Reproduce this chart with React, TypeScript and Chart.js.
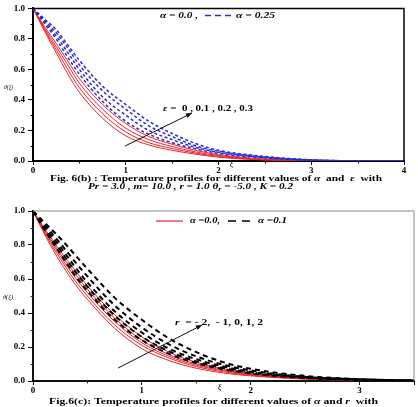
import { useEffect, useRef } from 'react';
import { Chart, registerables } from 'chart.js';
Chart.register(...registerables);

const SERIF = "'Liberation Serif', 'DejaVu Serif', 'Times New Roman', serif";

// ---------- Fig. 6(b): alpha = 0.0 (red solid) vs alpha = 0.25 (blue dashed), eps = 0, 0.1, 0.2, 0.3
const xiB = [0, 0.125, 0.25, 0.375, 0.5, 0.75, 1, 1.25, 1.5, 1.75, 2, 2.5, 3, 3.5, 4];
const redB_eps0 = [1, 0.85, 0.71, 0.57, 0.45, 0.28, 0.165, 0.105, 0.07, 0.045, 0.025, 0.006, 0.001, 0, 0];
const redB_eps1 = [1, 0.86, 0.73, 0.6, 0.48, 0.31, 0.19, 0.12, 0.082, 0.052, 0.03, 0.008, 0.001, 0, 0];
const redB_eps2 = [1, 0.87, 0.75, 0.63, 0.51, 0.34, 0.215, 0.14, 0.095, 0.06, 0.036, 0.01, 0.002, 0, 0];
const redB_eps3 = [1, 0.88, 0.77, 0.655, 0.54, 0.37, 0.245, 0.16, 0.11, 0.07, 0.042, 0.012, 0.002, 0, 0];
const blueB_eps0 = [1, 0.9, 0.8, 0.68, 0.57, 0.39, 0.26, 0.175, 0.12, 0.08, 0.05, 0.02, 0.005, 0.001, 0];
const blueB_eps1 = [1, 0.91, 0.82, 0.71, 0.6, 0.42, 0.3, 0.2, 0.14, 0.09, 0.057, 0.023, 0.006, 0.001, 0];
const blueB_eps2 = [1, 0.92, 0.84, 0.74, 0.63, 0.46, 0.34, 0.23, 0.16, 0.1, 0.064, 0.026, 0.007, 0.001, 0];
const blueB_eps3 = [1, 0.93, 0.86, 0.76, 0.66, 0.49, 0.37, 0.26, 0.18, 0.115, 0.07, 0.03, 0.008, 0.001, 0];
const xTicksB = [0, 1, 2, 3, 4];

// ---------- Fig. 6(c): alpha = 0.0 (red solid) vs alpha = 0.1 (black dashed), r = -2 .. 2
const xiC = [0, 0.125, 0.25, 0.375, 0.5, 0.75, 1, 1.25, 1.5, 1.75, 2, 2.5, 3, 3.5];
const redC_rm2 = [1, 0.84, 0.7, 0.58, 0.48, 0.31, 0.19, 0.12, 0.075, 0.047, 0.03, 0.011, 0.004, 0.001];
const redC_rm1 = [1, 0.85, 0.72, 0.6, 0.5, 0.33, 0.21, 0.135, 0.085, 0.054, 0.034, 0.013, 0.005, 0.001];
const redC_r0 = [1, 0.86, 0.735, 0.62, 0.52, 0.35, 0.225, 0.145, 0.093, 0.06, 0.038, 0.015, 0.005, 0.001];
const redC_r1 = [1, 0.87, 0.75, 0.64, 0.54, 0.37, 0.24, 0.155, 0.1, 0.065, 0.042, 0.017, 0.006, 0.002];
const redC_r2 = [1, 0.88, 0.765, 0.66, 0.56, 0.39, 0.26, 0.17, 0.11, 0.072, 0.046, 0.019, 0.007, 0.002];
const blackC_rm2 = [1, 0.87, 0.75, 0.63, 0.53, 0.36, 0.24, 0.16, 0.105, 0.07, 0.045, 0.018, 0.007, 0.002];
const blackC_rm1 = [1, 0.88, 0.77, 0.655, 0.555, 0.385, 0.26, 0.175, 0.115, 0.077, 0.05, 0.02, 0.008, 0.002];
const blackC_r0 = [1, 0.89, 0.79, 0.68, 0.58, 0.41, 0.285, 0.19, 0.128, 0.085, 0.055, 0.022, 0.009, 0.003];
const blackC_r1 = [1, 0.905, 0.81, 0.71, 0.615, 0.445, 0.315, 0.215, 0.145, 0.095, 0.062, 0.025, 0.01, 0.003];
const blackC_r2 = [1, 0.92, 0.84, 0.75, 0.66, 0.49, 0.36, 0.25, 0.17, 0.11, 0.072, 0.03, 0.011, 0.003];

// ---------- texts
const captionB1 = ['Fig. 6(b) : Temperature profiles for different values of ', 'α', '  and  ', 'ε', '  with'];
const captionB2 = ['Pr = 3.0 , m= 10.0 , r = 1.0 θ', 'r', ' = -5.0 , K = 0.2'];
const legendB = ['α = 0.0 ,', 'α = 0.25'];
const annotB = ['ε', ' =  0 , 0.1 , 0.2 , 0.3'];
const captionC = ['Fig.6(c): Temperature profiles for different values of ', 'α', ' and ', 'r', '  with'];
const legendC = ['α =0.0,', 'α =0.1'];
const annotC = ['r', '  = - 2,  - 1, 0, 1, 2'];
const yTitle = 'θ(ξ)';
const xTitle = 'ξ';

const RED = '#e8242a';
const BLUE = '#2a2ad2';

type Run = { t: string; f: string; dy?: number };
const fB = (s: number) => `bold ${s}px ${SERIF}`;
const fBI = (s: number) => `italic bold ${s}px ${SERIF}`;
const fI = (s: number) => `italic ${s}px ${SERIF}`;

function drawRuns(ctx: CanvasRenderingContext2D, runs: Run[], x: number, y: number, width?: number, color = '#000') {
  ctx.save();
  let total = 0;
  const ws = runs.map((r) => {
    ctx.font = r.f;
    const w = ctx.measureText(r.t).width;
    total += w;
    return w;
  });
  const sx = width ? width / total : 1;
  ctx.translate(x, y);
  ctx.scale(sx, 1);
  ctx.textBaseline = 'middle';
  ctx.textAlign = 'left';
  ctx.fillStyle = color;
  let cx = 0;
  runs.forEach((r, i) => {
    ctx.font = r.f;
    ctx.fillText(r.t, cx, r.dy || 0);
    cx += ws[i];
  });
  ctx.restore();
}

function arrow(ctx: CanvasRenderingContext2D, x1: number, y1: number, x2: number, y2: number) {
  ctx.save();
  ctx.strokeStyle = '#111';
  ctx.fillStyle = '#111';
  ctx.lineWidth = 1;
  ctx.beginPath();
  ctx.moveTo(x1, y1);
  ctx.lineTo(x2, y2);
  ctx.stroke();
  const a = Math.atan2(y2 - y1, x2 - x1);
  const L = 6, W = 2.5;
  ctx.beginPath();
  ctx.moveTo(x2, y2);
  ctx.lineTo(x2 - L * Math.cos(a) + W * Math.sin(a), y2 - L * Math.sin(a) - W * Math.cos(a));
  ctx.lineTo(x2 - L * Math.cos(a) - W * Math.sin(a), y2 - L * Math.sin(a) + W * Math.cos(a));
  ctx.closePath();
  ctx.fill();
  ctx.restore();
}

function minorTicks(chart: any, xStep: number, yStep: number, len: number, color: string) {
  const { ctx, chartArea } = chart;
  const sx = chart.scales.x, sy = chart.scales.y;
  ctx.save();
  ctx.strokeStyle = color;
  ctx.lineWidth = 1;
  ctx.beginPath();
  for (let v = xStep; v < sx.max - 1e-9; v += xStep) {
    if (Math.abs(v - Math.round(v)) < 1e-6) continue;
    const p = Math.round(sx.getPixelForValue(v)) + 0.5;
    ctx.moveTo(p, chartArea.bottom);
    ctx.lineTo(p, chartArea.bottom + len);
  }
  for (let v = yStep; v < sy.max - 1e-9; v += 2 * yStep) {
    const p = Math.round(sy.getPixelForValue(v)) + 0.5;
    ctx.moveTo(chartArea.left, p);
    ctx.lineTo(chartArea.left - len, p);
  }
  ctx.stroke();
  ctx.restore();
}

function frame(chart: any, color: string, width: number) {
  const { ctx, chartArea } = chart;
  ctx.save();
  ctx.strokeStyle = color;
  ctx.lineWidth = width;
  ctx.beginPath();
  ctx.moveTo(chartArea.left, chartArea.top);
  ctx.lineTo(chartArea.right, chartArea.top);
  ctx.lineTo(chartArea.right, chartArea.bottom);
  ctx.stroke();
  ctx.restore();
}

const decoB = {
  id: 'decoB',
  afterDraw(chart: any) {
    const { ctx, chartArea } = chart;
    const X = (v: number) => chart.scales.x.getPixelForValue(v);
    const Y = (v: number) => chart.scales.y.getPixelForValue(v);
    frame(chart, '#000', 1.5);
    minorTicks(chart, 0.5, 0.1, 2.5, '#000');
    // legend
    const ly = Y(0.954);
    drawRuns(ctx, [{ t: legendB[0], f: fBI(9) }], X(1.369), ly, X(1.779) - X(1.369));
    ctx.save();
    ctx.strokeStyle = BLUE;
    ctx.lineWidth = 1.5;
    ctx.setLineDash([6, 4]);
    ctx.beginPath();
    ctx.moveTo(X(1.854), ly);
    ctx.lineTo(X(2.156), ly);
    ctx.stroke();
    ctx.restore();
    drawRuns(ctx, [{ t: legendB[1], f: fBI(9) }], X(2.189), ly, X(2.609) - X(2.189));
    // annotation
    drawRuns(ctx, [{ t: annotB[0], f: fBI(9) }, { t: annotB[1], f: fB(9) }], X(1.402), Y(0.34), X(2.372) - X(1.402));
    arrow(ctx, X(0.992), Y(0.098), X(1.714), Y(0.314));
    // axis titles
    drawRuns(ctx, [{ t: yTitle, f: fI(7) }], chartArea.left - 29, Y(0.484), 9);
    drawRuns(ctx, [{ t: xTitle, f: fI(8) }], X(2.12), chartArea.bottom + 4);
    // caption
    drawRuns(
      ctx,
      [
        { t: captionB1[0], f: fB(8.5) },
        { t: captionB1[1], f: fBI(8.5) },
        { t: captionB1[2], f: fB(8.5) },
        { t: captionB1[3], f: fBI(8.5) },
        { t: captionB1[4], f: fB(8.5) },
      ],
      50,
      chartArea.bottom + 18,
      332
    );
    drawRuns(
      ctx,
      [
        { t: captionB2[0], f: fBI(7.5) },
        { t: captionB2[1], f: fBI(5.5), dy: 2 },
        { t: captionB2[2], f: fBI(7.5) },
      ],
      88,
      chartArea.bottom + 26.5,
      205
    );
  },
};

const decoC = {
  id: 'decoC',
  afterDraw(chart: any) {
    const { ctx, chartArea } = chart;
    const X = (v: number) => chart.scales.x.getPixelForValue(v);
    const Y = (v: number) => chart.scales.y.getPixelForValue(v);
    frame(chart, '#8a8a8a', 1);
    minorTicks(chart, 0.5, 0.1, 2.5, '#333');
    const ly = Y(0.941);
    ctx.save();
    ctx.strokeStyle = RED;
    ctx.lineWidth = 1.2;
    ctx.beginPath();
    ctx.moveTo(X(1.13), ly);
    ctx.lineTo(X(1.378), ly);
    ctx.stroke();
    ctx.strokeStyle = '#000';
    ctx.lineWidth = 1.5;
    ctx.setLineDash([8, 6]);
    ctx.beginPath();
    ctx.moveTo(X(1.791), ly);
    ctx.lineTo(X(1.993), ly);
    ctx.stroke();
    ctx.restore();
    drawRuns(ctx, [{ t: legendC[0], f: fBI(9) }], X(1.442), ly, X(1.718) - X(1.442));
    drawRuns(ctx, [{ t: legendC[1], f: fBI(9) }], X(2.067), ly, X(2.333) - X(2.067));
    drawRuns(ctx, [{ t: annotC[0], f: fBI(9) }, { t: annotC[1], f: fB(9) }], X(1.304), Y(0.341), X(2.113) - X(1.304));
    arrow(ctx, X(0.781), Y(0.076), X(1.552), Y(0.329));
    drawRuns(ctx, [{ t: yTitle, f: fI(7) }], chartArea.left - 30, Y(0.494), 10);
    drawRuns(ctx, [{ t: xTitle, f: fI(8) }], X(1.7), chartArea.bottom + 7);
    drawRuns(
      ctx,
      [
        { t: captionC[0], f: fB(9) },
        { t: captionC[1], f: fBI(9) },
        { t: captionC[2], f: fB(9) },
        { t: captionC[3], f: fBI(9) },
        { t: captionC[4], f: fB(9) },
      ],
      49,
      chartArea.bottom + 21,
      329
    );
  },
};

function series(xs: number[], ys: number[]) {
  return ys.map((y, i) => ({ x: xs[i], y }));
}

function axes(xMax: number, xAxisH: number, axisColor: string) {
  const tickFont = { family: SERIF, size: 9, weight: 'bold' as const };
  return {
    x: {
      type: 'linear' as const,
      min: 0,
      max: xMax,
      ticks: {
        stepSize: 1,
        color: '#000',
        font: tickFont,
        padding: 0,
        maxRotation: 0,
        autoSkip: false,
        callback: (v: any) => (Number.isInteger(Number(v)) ? String(v) : ''),
      },
      grid: { drawOnChartArea: false, tickLength: 4, color: axisColor },
      border: { color: axisColor, width: 2 },
      afterFit: (s: any) => {
        s.height = xAxisH;
      },
    },
    y: {
      type: 'linear' as const,
      min: 0,
      max: 1,
      ticks: {
        stepSize: 0.2,
        color: '#000',
        font: tickFont,
        padding: 3,
        callback: (v: any) => Number(v).toFixed(1),
      },
      grid: { drawOnChartArea: false, tickLength: 5, color: axisColor },
      border: { color: axisColor, width: 2 },
      afterFit: (s: any) => {
        s.width = 33;
      },
    },
  };
}

export default function App() {
  const refB = useRef<HTMLCanvasElement>(null);
  const refC = useRef<HTMLCanvasElement>(null);

  useEffect(() => {
    const common = {
      pointRadius: 0,
      fill: false,
      cubicInterpolationMode: 'monotone' as const,
    };
    const redsB = [redB_eps0, redB_eps1, redB_eps2, redB_eps3];
    const bluesB = [blueB_eps0, blueB_eps1, blueB_eps2, blueB_eps3];
    const chartB = new Chart(refB.current!, {
      type: 'line',
      data: {
        datasets: [
          ...bluesB.map((ys) => ({
            ...common,
            data: series(xiB, ys),
            borderColor: BLUE,
            borderWidth: 1.5,
            borderDash: [3, 2.5],
            order: 0,
          })),
          ...redsB.map((ys) => ({
            ...common,
            data: series(xiB, ys),
            borderColor: RED,
            borderWidth: 1,
            order: 1,
          })),
        ],
      },
      options: {
        responsive: false,
        animation: false,
        layout: { padding: { top: 8, right: 14, left: 0, bottom: 0 } },
        plugins: { legend: { display: false }, tooltip: { enabled: false } },
        scales: axes(xTicksB[xTicksB.length - 1], 39, '#000'),
      },
      plugins: [decoB],
    });

    const redsC = [redC_rm2, redC_rm1, redC_r0, redC_r1, redC_r2];
    const blacksC = [blackC_rm2, blackC_rm1, blackC_r0, blackC_r1, blackC_r2];
    const chartC = new Chart(refC.current!, {
      type: 'line',
      data: {
        datasets: [
          ...blacksC.map((ys) => ({
            ...common,
            data: series(xiC, ys),
            borderColor: '#000',
            borderWidth: 2,
            borderDash: [5, 4],
            order: 0,
          })),
          ...redsC.map((ys) => ({
            ...common,
            data: series(xiC, ys),
            borderColor: RED,
            borderWidth: 1,
            order: 1,
          })),
        ],
      },
      options: {
        responsive: false,
        animation: false,
        layout: { padding: { top: 11, right: 4, left: 0, bottom: 0 } },
        plugins: { legend: { display: false }, tooltip: { enabled: false } },
        scales: axes(3.5, 26, '#111'),
      },
      plugins: [decoC],
    });

    return () => {
      chartB.destroy();
      chartC.destroy();
    };
  }, []);

  return (
    <div style={{ position: 'fixed', left: 0, top: 0, width: 418, height: 407, background: '#fff', overflow: 'hidden' }}>
      <canvas ref={refB} width={418} height={200} style={{ position: 'absolute', left: 0, top: 0, display: 'block' }} />
      <canvas ref={refC} width={418} height={207} style={{ position: 'absolute', left: 0, top: 200, display: 'block' }} />
    </div>
  );
}
